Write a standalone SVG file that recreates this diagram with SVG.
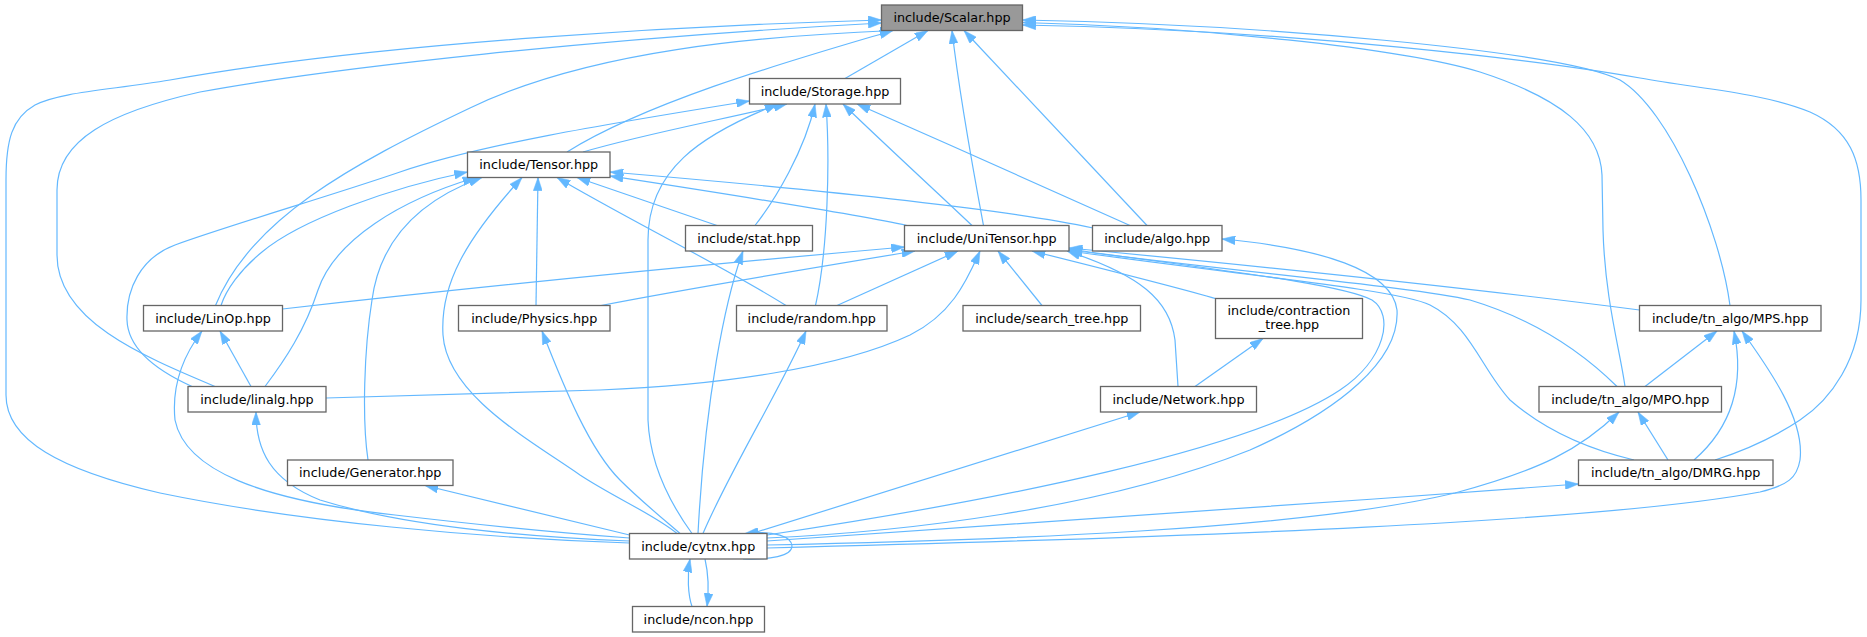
<svg xmlns="http://www.w3.org/2000/svg" width="1867" height="637" viewBox="0 0 1867 637">
<style>
.node rect{fill:#ffffff;stroke:#666666;stroke-width:1.3}
.root rect{fill:#999999}
.node text{font-family:"DejaVu Sans",sans-serif;font-size:12.75px;text-anchor:middle;fill:#000000}
.edges path{fill:none;stroke:#63b8ff;stroke-width:1.2;marker-start:url(#ah)}
</style>
<defs>
<marker id="ah" markerUnits="userSpaceOnUse" viewBox="0 0 14 9" markerWidth="14" markerHeight="9" refX="13.3" refY="4.5" orient="auto-start-reverse">
<path d="M0,0 L13.3,4.5 L0,9 Z" fill="#63b8ff" stroke="#63b8ff" stroke-width="0.5"/>
</marker>
</defs>
<rect width="1867" height="637" fill="#ffffff"/>
<g class="edges" id="connectors">
<path d="M881.5,20 C700,25 380,42 170,80 C110,90 60,92 35,105 C12,118 6,140 6,180 L6,395 C6,440 60,470 160,493 C300,522 480,538 629.5,543"/>
<path d="M881.5,23 C600,38 330,68 200,92 C110,112 57,140 57,190 L57,255 C57,320 140,355 215,386.5"/>
<path d="M893,30.5 C760,36 590,50 470,108 C350,165 250,220 215.5,305.5"/>
<path d="M893,30.5 C800,58 650,100 567,152"/>
<path d="M928,30.5 L845,78.5"/>
<path d="M952,30.5 C960,100 975,180 983.5,225.5"/>
<path d="M964,30.5 L1147,225.5"/>
<path d="M1022.5,20 C1250,24 1560,50 1620,80 C1670,110 1720,230 1730,305.5"/>
<path d="M1022.5,22.5 C1200,27 1400,48 1480,72 C1560,98 1600,130 1602,175 L1603,230 C1605,300 1620,350 1625,386.5"/>
<path d="M1022.5,25 C1300,30 1550,62 1640,78 C1700,89 1760,92 1810,112 C1850,130 1861,160 1861,200 L1861,300 C1861,360 1830,400 1800,420 C1770,440 1740,452 1715,460"/>
<path d="M787,104 C720,120 640,135 583,152"/>
<path d="M749.5,101 C600,125 480,145 400,172 C330,196 230,225 175,245 C140,258 126,290 127,320 C128,350 160,372 192,386.5"/>
<path d="M778,104 C700,135 648,170 648,240 L648,420 C650,470 675,510 692,533.5"/>
<path d="M815,104 C805,150 775,200 755,225.5"/>
<path d="M826,104 C830,160 828,250 815.5,305.5"/>
<path d="M843,104 C880,140 940,195 972,225.5"/>
<path d="M857,104 C950,145 1070,198 1130,225.5"/>
<path d="M467.5,172 C390,188 300,220 262,252 C240,270 226,290 221,305.5"/>
<path d="M476,177.5 C400,200 335,240 318,290 C305,330 285,360 265,386.5"/>
<path d="M482,177.5 C420,200 380,240 372,300 C364,350 362,420 368,460"/>
<path d="M522,177.5 C465,240 440,285 443,335 C447,395 530,440 580,475 C615,498 655,515 677,533.5"/>
<path d="M538,177.5 L536,305.5"/>
<path d="M557,177.5 C620,215 730,270 786,305.5"/>
<path d="M577,177.5 L717,225.5"/>
<path d="M610,176 C720,193 850,213 907,225.5"/>
<path d="M610,172 C800,188 1000,208 1093,228"/>
<path d="M904.5,247 C700,265 450,290 282.5,309"/>
<path d="M915,251 C800,270 680,290 601,305.5"/>
<path d="M958,251 L837,305.5"/>
<path d="M980,251 C965,285 950,315 910,335 C840,368 720,385 600,390 C500,393 400,396 326,398"/>
<path d="M998,251 L1042,305.5"/>
<path d="M1032,251 C1100,268 1180,288 1217,299"/>
<path d="M1067,251 C1140,275 1170,300 1175,340 L1178,386.5"/>
<path d="M1069,249 C1200,268 1340,283 1372,300 C1395,315 1385,360 1340,390 C1250,450 1000,500 767,535"/>
<path d="M1069,248 C1300,270 1500,292 1639.5,310"/>
<path d="M1069,250 C1250,273 1420,288 1470,300 C1530,318 1580,350 1617,386.5"/>
<path d="M1069,251 C1250,276 1400,290 1430,305 C1470,325 1482,370 1510,400 C1550,435 1600,452 1634,460"/>
<path d="M1222,239 C1320,248 1392,270 1397,310 C1400,360 1340,410 1250,450 C1100,510 900,532 767,538"/>
<path d="M220,331 L251,386.5"/>
<path d="M202,331 C180,360 172,390 175,420 C185,470 260,500 395,515 C480,525 560,533 629.5,538"/>
<path d="M256,412 C256,450 270,480 320,500 C400,525 520,537 629.5,541"/>
<path d="M425,485.5 L629.5,535"/>
<path d="M542,331 C565,390 590,450 620,480 C640,500 662,518 680,533.5"/>
<path d="M806,331 C780,390 730,470 703,533.5"/>
<path d="M743,251 C725,300 705,400 698,533.5"/>
<path d="M1140,412 L752,533.5"/>
<path d="M1619,412 C1580,450 1540,470 1455,493 C1300,530 1000,540 767,545"/>
<path d="M1578.5,484 C1300,505 1000,525 767,541"/>
<path d="M1742,331 C1770,370 1805,420 1800,460 C1797,478 1788,485 1760,492 C1600,522 1200,537 767,548"/>
<path d="M1717,331 L1645,386.5"/>
<path d="M1734,331 C1742,370 1740,420 1694,460"/>
<path d="M1638,412 L1668,460"/>
<path d="M1263,338.5 L1195,386.5"/>
<path d="M690,559 C687,575 688,595 692,606.5"/>
<path d="M707,606.5 C709,590 708,572 705,559"/>
<path d="M745,533.5 C775,530 792,537 792,546 C792,556 770,560 743,559"/>
</g>
<g id="node-scalar" class="node root"><rect x="881.5" y="5" width="141" height="25.5"/><text x="952" y="22">include/Scalar.hpp</text></g>
<g id="node-storage" class="node"><rect x="749.5" y="78.5" width="151" height="25.5"/><text x="825" y="95.5">include/Storage.hpp</text></g>
<g id="node-tensor" class="node"><rect x="467.5" y="152" width="142.5" height="25.5"/><text x="538.75" y="169">include/Tensor.hpp</text></g>
<g id="node-stat" class="node"><rect x="685.5" y="225.5" width="127" height="25.5"/><text x="749" y="242.5">include/stat.hpp</text></g>
<g id="node-unitensor" class="node"><rect x="904.5" y="225.5" width="164.5" height="25.5"/><text x="986.75" y="242.5">include/UniTensor.hpp</text></g>
<g id="node-algo" class="node"><rect x="1092.5" y="225.5" width="129.5" height="25.5"/><text x="1157.25" y="242.5">include/algo.hpp</text></g>
<g id="node-linop" class="node"><rect x="143.5" y="305.5" width="139" height="25.5"/><text x="213" y="322.5">include/LinOp.hpp</text></g>
<g id="node-physics" class="node"><rect x="458.5" y="305.5" width="151.5" height="25.5"/><text x="534.25" y="322.5">include/Physics.hpp</text></g>
<g id="node-random" class="node"><rect x="736.5" y="305.5" width="150.5" height="25.5"/><text x="811.75" y="322.5">include/random.hpp</text></g>
<g id="node-search-tree" class="node"><rect x="963" y="305.5" width="177.5" height="25.5"/><text x="1051.75" y="322.5">include/search_tree.hpp</text></g>
<g id="node-contraction-tree" class="node"><rect x="1215.5" y="298.5" width="147" height="40"/><text x="1289" y="315">include/contraction</text><text x="1289" y="329">_tree.hpp</text></g>
<g id="node-mps" class="node"><rect x="1639.5" y="305.5" width="181.5" height="25.5"/><text x="1730.25" y="322.5">include/tn_algo/MPS.hpp</text></g>
<g id="node-linalg" class="node"><rect x="188" y="386.5" width="138" height="25.5"/><text x="257" y="403.5">include/linalg.hpp</text></g>
<g id="node-network" class="node"><rect x="1100.5" y="386.5" width="156" height="25.5"/><text x="1178.5" y="403.5">include/Network.hpp</text></g>
<g id="node-mpo" class="node"><rect x="1539" y="386.5" width="182.5" height="25.5"/><text x="1630.25" y="403.5">include/tn_algo/MPO.hpp</text></g>
<g id="node-generator" class="node"><rect x="287.5" y="460" width="165.5" height="25.5"/><text x="370.25" y="477">include/Generator.hpp</text></g>
<g id="node-dmrg" class="node"><rect x="1578.5" y="460" width="194.5" height="25.5"/><text x="1675.75" y="477">include/tn_algo/DMRG.hpp</text></g>
<g id="node-cytnx" class="node"><rect x="629.5" y="533.5" width="137.5" height="25.5"/><text x="698.25" y="550.5">include/cytnx.hpp</text></g>
<g id="node-ncon" class="node"><rect x="632.5" y="606.5" width="132" height="25.5"/><text x="698.5" y="623.5">include/ncon.hpp</text></g>
</svg>
